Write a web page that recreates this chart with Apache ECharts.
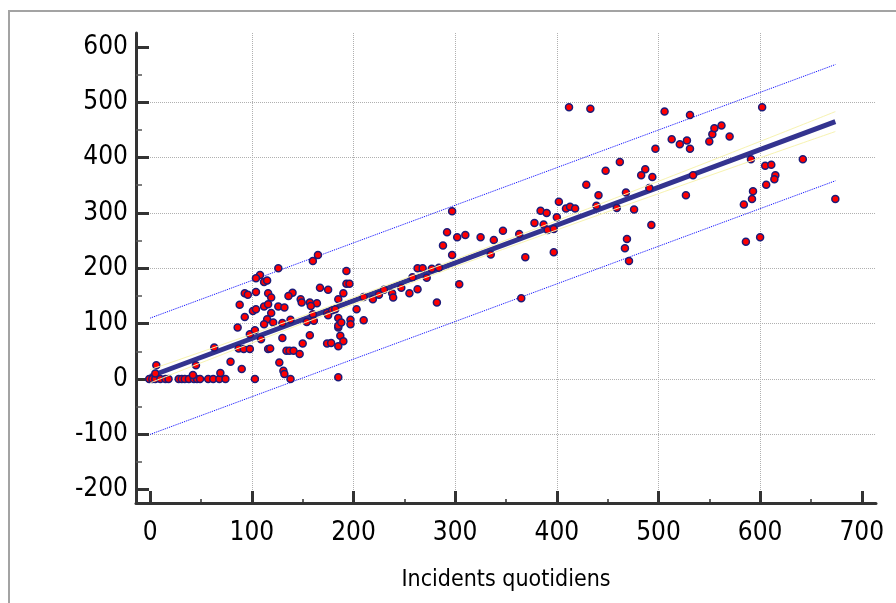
<!DOCTYPE html>
<html>
<head>
<meta charset="utf-8">
<title>Incidents quotidiens</title>
<script src="https://cdn.jsdelivr.net/npm/echarts@6/dist/echarts.min.js"></script>
<style>
    html, body { margin: 0; padding: 0; background: #fff; }
    #chart { width: 896px; height: 603px; }
</style>
</head>
<body>
<div id="chart"></div>
<script>
// tick values
const xMajorTicks = [0, 100, 200, 300, 400, 500, 600, 700];
const xMinorTicks = [50, 150, 250, 350, 450, 550, 650];
const yMajorTicks = [-200, -100, 0, 100, 200, 300, 400, 500, 600];
const yMinorTicks = [-150, -50, 50, 150, 250, 350, 450, 550];

const points = [
    [-1, 0], [2, 0], [5, 0], [10, 0], [15, 0], [18, 0], [28, 0], [31, 0], [34, 0], [38, 0],
    [43, 0], [46, 0], [49, 0], [57, 0], [62, 0], [68, 0], [74, 0], [103, 0], [138, 0], [185, 3],
    [6, 25], [5, 10], [45, 25], [42, 7], [69, 11], [63, 57], [79, 31], [90, 18], [87, 55], [92, 54],
    [98, 54], [98, 81], [103, 88], [109, 72], [86, 93], [93, 112], [88, 134], [93, 155], [96, 152], [101, 123],
    [104, 126], [104, 157], [108, 188], [104, 182], [112, 175], [115, 178], [116, 155], [119, 147], [112, 131], [116, 135],
    [119, 119], [115, 108], [112, 99], [121, 102], [126, 131], [132, 129], [126, 200], [116, 54], [118, 55], [130, 74],
    [127, 30], [131, 15], [132, 9], [134, 51], [137, 51], [141, 51], [147, 45], [150, 64], [157, 79], [130, 101],
    [138, 107], [140, 156], [136, 150], [148, 144], [154, 103], [157, 138], [160, 117], [164, 137], [160, 213], [165, 224],
    [167, 165], [175, 161], [174, 64], [178, 65], [174, 119], [179, 124], [185, 110], [185, 93], [187, 78], [190, 68],
    [185, 59], [190, 155], [193, 172], [193, 195], [196, 172], [197, 107], [203, 126], [210, 106], [219, 144], [185, 144],
    [182, 126], [149, 138], [158, 132], [185, 96], [188, 102], [197, 99], [175, 115], [161, 105], [238, 155], [210, 148],
    [225, 152], [282, 138], [304, 171], [365, 146], [272, 183], [263, 162], [255, 155], [247, 165], [239, 147], [230, 161],
    [277, 199], [284, 201], [412, 491], [433, 488], [297, 303], [292, 265], [288, 241], [297, 224], [302, 256], [310, 260],
    [325, 256], [338, 251], [347, 268], [363, 262], [335, 225], [369, 220], [378, 282], [384, 304], [390, 300], [387, 279],
    [391, 269], [397, 271], [400, 292], [402, 320], [409, 308], [413, 311], [418, 308], [397, 229], [429, 351], [441, 332],
    [448, 376], [462, 392], [439, 313], [459, 309], [468, 337], [469, 253], [467, 236], [471, 213], [258, 184], [263, 200],
    [268, 200], [506, 483], [531, 477], [602, 491], [497, 416], [513, 433], [521, 424], [528, 431], [531, 416], [550, 429],
    [553, 442], [555, 453], [562, 458], [570, 438], [487, 379], [483, 368], [494, 365], [491, 345], [476, 306], [493, 278],
    [527, 332], [534, 368], [591, 397], [605, 385], [611, 387], [615, 368], [614, 361], [606, 351], [593, 339], [592, 325],
    [584, 315], [642, 397], [674, 325], [586, 248], [600, 256]
];

// fitted line and bands, at the end points (and middle for the curved band)
const fitX = [0, 674];
const fitY = [5, 465];
const predUpperY = [110, 568];
const predLowerY = [-100, 358];
const confX = [0, 260, 674];
const confUpperY = [17, 188, 483];
const confLowerY = [-7, 176, 447];

const font = "'Liberation Sans Narrow', 'DejaVu Sans Condensed', sans-serif";

function pairs(xs, ys) {
    return xs.map((x, i) => [x, ys[i]]);
}

const chart = echarts.init(document.getElementById('chart'));

const option = {
    animation: false,
    backgroundColor: '#fff',
    graphic: [{
        type: 'rect',
        shape: { x: 9, y: 11, width: 900, height: 600 },
        style: { fill: 'none', stroke: '#a3a3a3', lineWidth: 2 },
        silent: true
    }],
    grid: { left: 136, right: 20, top: 33, bottom: 100 },
    xAxis: [{
        type: 'value',
        min: -14,
        max: 714,
        position: 'bottom',
        axisLine: { onZero: false, lineStyle: { color: '#333', width: 3 } },
        axisTick: { customValues: xMajorTicks, inside: true, length: 12, lineStyle: { color: '#333', width: 3 } },
        axisLabel: { customValues: xMajorTicks, color: '#000', fontSize: 26, fontFamily: font, margin: 17 },
        splitLine: { show: true, showMinLine: false, showMaxLine: false, lineStyle: { type: 'dotted', color: '#b0b0b0', width: 1 } },
        name: 'Incidents quotidiens',
        nameLocation: 'middle',
        nameGap: 66,
        nameTextStyle: { color: '#000', fontSize: 23, fontFamily: font }
    }, {
        type: 'value',
        min: -14,
        max: 714,
        position: 'bottom',
        axisLine: { show: false, onZero: false },
        axisTick: { customValues: xMinorTicks, inside: true, length: 4, lineStyle: { color: '#333', width: 1.5 } },
        axisLabel: { show: false },
        splitLine: { show: false }
    }],
    yAxis: [{
        type: 'value',
        min: -224,
        max: 625,
        position: 'left',
        axisLine: { show: true, onZero: false, lineStyle: { color: '#333', width: 3 } },
        axisTick: { show: true, customValues: yMajorTicks, inside: true, length: 13, lineStyle: { color: '#333', width: 3 } },
        axisLabel: { customValues: yMajorTicks, color: '#000', fontSize: 26, fontFamily: font, margin: 8 },
        splitLine: { show: true, showMinLine: false, showMaxLine: false, lineStyle: { type: 'dotted', color: '#b0b0b0', width: 1 } }
    }, {
        type: 'value',
        min: -224,
        max: 625,
        position: 'left',
        axisLine: { show: false, onZero: false },
        axisTick: { show: true, customValues: yMinorTicks, inside: true, length: 6, lineStyle: { color: '#555', width: 1.5 } },
        axisLabel: { show: false },
        splitLine: { show: false }
    }],
    series: [{
        name: 'pred-upper',
        type: 'line',
        data: pairs(fitX, predUpperY),
        symbol: 'none',
        lineStyle: { color: '#0000ff', width: 1, type: 'dotted' },
        z: 2
    }, {
        name: 'pred-lower',
        type: 'line',
        data: pairs(fitX, predLowerY),
        symbol: 'none',
        lineStyle: { color: '#0000ff', width: 1, type: 'dotted' },
        z: 2
    }, {
        name: 'fit',
        type: 'line',
        data: pairs(fitX, fitY),
        symbol: 'none',
        lineStyle: { color: '#33338f', width: 5 },
        z: 3
    }, {
        name: 'points',
        type: 'scatter',
        data: points,
        symbolSize: 7,
        itemStyle: { color: '#ff0000', borderColor: '#1c1c7a', borderWidth: 1.5, opacity: 1 },
        z: 4
    }, {
        name: 'conf-upper',
        type: 'line',
        data: pairs(confX, confUpperY),
        symbol: 'none',
        smooth: true,
        lineStyle: { color: '#f7f3b0', width: 1 },
        z: 5
    }, {
        name: 'conf-lower',
        type: 'line',
        data: pairs(confX, confLowerY),
        symbol: 'none',
        smooth: true,
        lineStyle: { color: '#f7f3b0', width: 1 },
        z: 5
    }]
};

chart.setOption(option);
</script>
</body>
</html>
